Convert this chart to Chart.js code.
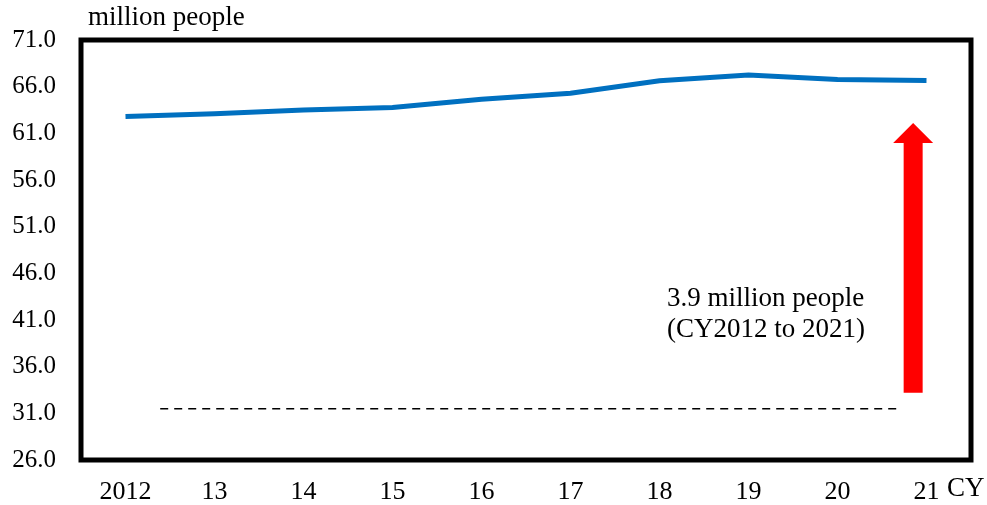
<!DOCTYPE html>
<html><head><meta charset="utf-8">
<script src="https://cdn.jsdelivr.net/npm/chart.js@4"></script>
<style>html,body{margin:0;padding:0;background:#fff}#wrap{width:987px;height:505px}</style>
</head><body><div id="wrap"><canvas id="c" width="987" height="505"></canvas></div>
<script>
const categories = ['2012','13','14','15','16','17','18','19','20','21'];
const employed = [62.80, 63.11, 63.51, 63.76, 64.65, 65.30, 66.64, 67.24, 66.76, 66.67];
const yMin = 26, yMax = 71, yStep = 5;
const unitLabel = 'million people';
const xUnitLabel = 'CY';
const noteLines = ['3.9 million people', '(CY2012 to 2021)'];
// reference dashed line and arrow, in data units
const dashLevel = 31.5, dashFrom = 0.39, dashTo = 8.68;
const arrowX = 8.85, arrowFrom = 33.2, arrowTo = 62.1;

const FONT = '"Liberation Serif", "Times New Roman", serif';

const decor = {
  id: 'decor',
  afterDatasetsDraw(chart) {
    const {ctx, chartArea: a, scales: {x, y}} = chart;
    ctx.save();
    // dashed line
    ctx.strokeStyle = '#000'; ctx.lineWidth = 1.5; ctx.setLineDash([8, 6]);
    ctx.beginPath();
    ctx.moveTo(x.getPixelForValue(dashFrom), y.getPixelForValue(dashLevel));
    ctx.lineTo(x.getPixelForValue(dashTo), y.getPixelForValue(dashLevel));
    ctx.stroke();
    ctx.setLineDash([]);
    // arrow
    const ax = x.getPixelForValue(arrowX);
    const yb = y.getPixelForValue(arrowFrom), yt = y.getPixelForValue(arrowTo);
    const sw = 19, hw = 40, hh = 20;
    ctx.fillStyle = '#FF0000';
    ctx.beginPath();
    ctx.moveTo(ax - sw/2, yb); ctx.lineTo(ax - sw/2, yt + hh); ctx.lineTo(ax - hw/2, yt + hh);
    ctx.lineTo(ax, yt); ctx.lineTo(ax + hw/2, yt + hh); ctx.lineTo(ax + sw/2, yt + hh);
    ctx.lineTo(ax + sw/2, yb); ctx.closePath(); ctx.fill();
    // note text
    ctx.fillStyle = '#000'; ctx.font = '27px ' + FONT; ctx.textAlign = 'left'; ctx.textBaseline = 'middle';
    ctx.fillText(noteLines[0], 667, 299);
    ctx.fillText(noteLines[1], 667, 330);
    // frame
    ctx.strokeStyle = '#000'; ctx.lineWidth = 5;
    ctx.strokeRect(a.left, a.top, a.right - a.left, a.bottom - a.top);
    // unit labels
    ctx.font = '27px ' + FONT; ctx.textBaseline = 'middle';
    ctx.fillText(unitLabel, 88, 18);
    ctx.fillText(xUnitLabel, 947, 489);
    ctx.restore();
  }
};

new Chart(document.getElementById('c'), {
  type: 'line',
  data: { labels: categories, datasets: [{
    data: employed, borderColor: '#0070C0', borderWidth: 5, pointRadius: 0, tension: 0, fill: false
  }]},
  options: {
    responsive: false, animation: false,
    layout: { padding: { top: 40, right: 16, left: 0, bottom: 0 } },
    plugins: { legend: { display: false }, tooltip: { enabled: false } },
    scales: {
      x: {
        offset: true,
        grid: { display: false, drawTicks: false },
        border: { display: false },
        ticks: { color: '#000', font: { family: FONT, size: 26 }, padding: 17, maxRotation: 0, autoSkip: false },
        afterFit(s) { s.height = 45; }
      },
      y: {
        min: yMin, max: yMax,
        grid: { display: false, drawTicks: false },
        border: { display: false },
        ticks: { stepSize: yStep, color: '#000', font: { family: FONT, size: 25 }, padding: 25,
                 callback: v => Number(v).toFixed(1) },
        afterFit(s) { s.width = 81; }
      }
    }
  },
  plugins: [decor]
});
</script></body></html>
